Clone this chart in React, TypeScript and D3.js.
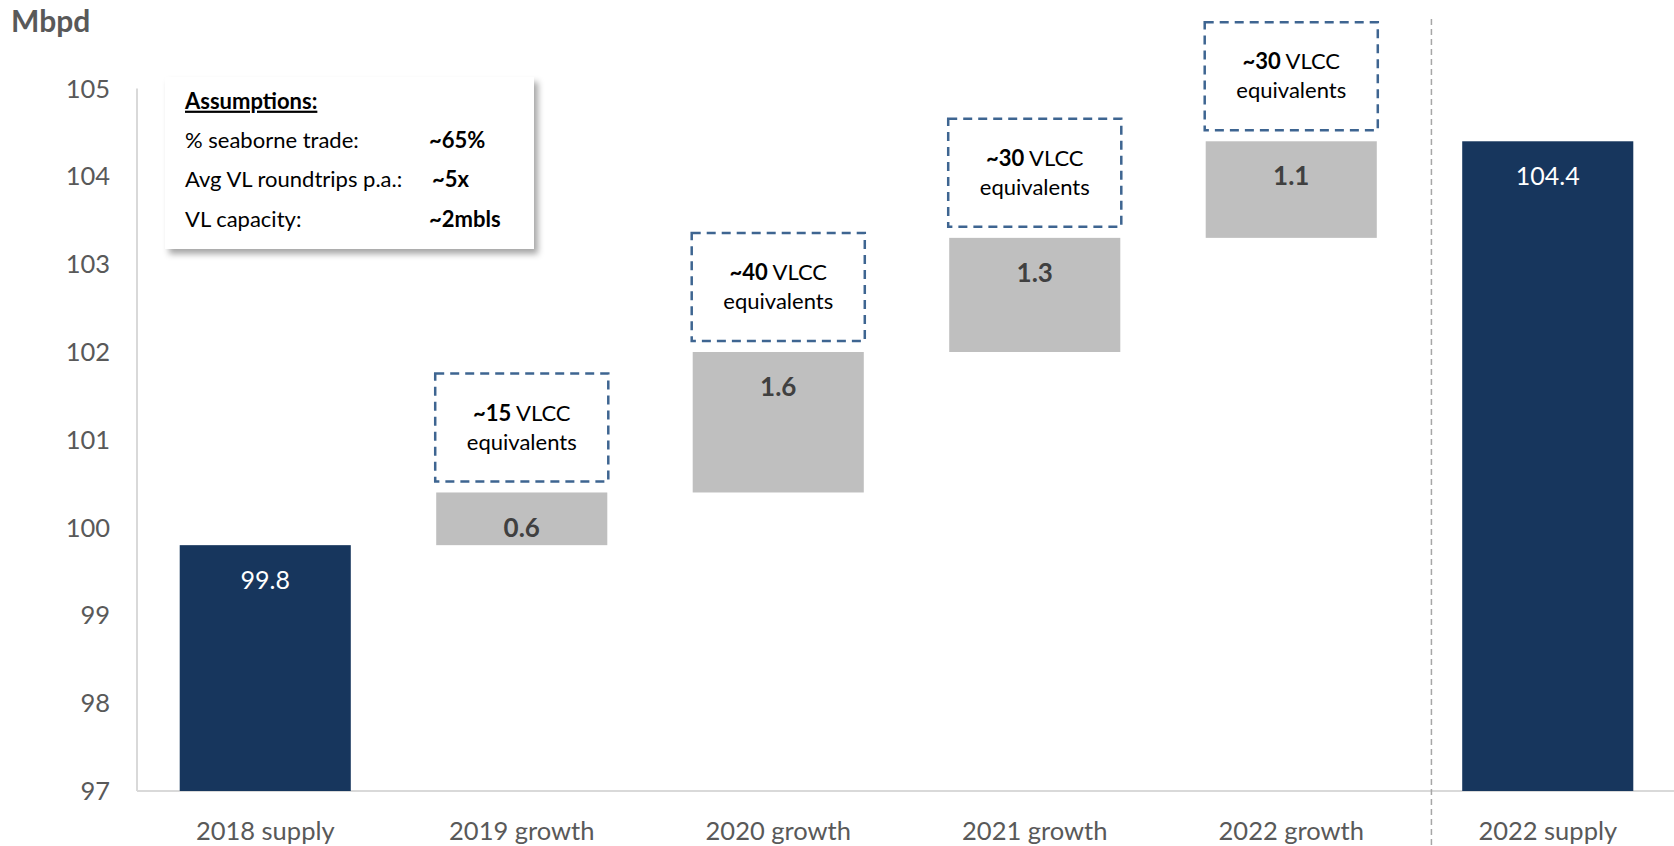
import React from "react";
import * as d3 from "d3";

const categories = ["2018 supply", "2019 growth", "2020 growth", "2021 growth", "2022 growth", "2022 supply"];
const values = [99.8, 0.6, 1.6, 1.3, 1.1, 104.4];
const kinds = ["total", "delta", "delta", "delta", "delta", "total"];
const vlccCounts = [null, "~15", "~40", "~30", "~30", null];
const yTicks = [97, 98, 99, 100, 101, 102, 103, 104, 105];
const assumptionLabels = ["% seaborne trade:", "Avg VL roundtrips p.a.:", "VL capacity:"];
const assumptionValues = ["~65%", "~5x", "~2mbls"];

const W = 1674;
const H = 846;
const FONT = "Lato, 'Open Sans', sans-serif";
const NAVY = "#17365D";
const GREY_BAR = "#BFBFBF";

export default function App() {
  const x = d3.scaleBand<string>().domain(categories).range([137, 1676]).paddingInner(0.333).paddingOuter(0.1665);
  const y = d3.scaleLinear().domain([97, 105]).range([791, 88.6]);

  let running = 0;
  const segs = categories.map((c, i) => {
    let lo: number, hi: number;
    if (kinds[i] === "total") {
      lo = 97;
      hi = values[i];
      running = values[i];
    } else {
      lo = running;
      hi = running + values[i];
      running = hi;
    }
    return { c, lo, hi, kind: kinds[i], v: values[i], vlcc: vlccCounts[i] };
  });

  const bw = x.bandwidth();
  const sepX = (x("2022 supply") as number) - x.step() * 0.12;

  return (
    <svg width={W} height={H} style={{ position: "absolute", left: 0, top: 0, background: "#fff" }} fontFamily={FONT}>
      <defs>
        <filter id="shadow" x="-10%" y="-10%" width="130%" height="140%">
          <feDropShadow dx="4" dy="5" stdDeviation="3" floodColor="#000" floodOpacity="0.35" />
        </filter>
      </defs>
      <rect width={W} height={H} fill="#fff" />

      <line x1={137} x2={137} y1={y(105)} y2={y(97)} stroke="#D9D9D9" strokeWidth={2} />
      <line x1={137} x2={W} y1={y(97)} y2={y(97)} stroke="#D9D9D9" strokeWidth={2} />

      {yTicks.map((t) => (
        <text key={t} x={110} y={y(t)} dy="0.35em" textAnchor="end" fontSize={25.5} fill="#595959">
          {t}
        </text>
      ))}

      <text x={11} y={21} dy="0.35em" fontSize={30} fontWeight={700} fill="#595959">
        Mbpd
      </text>

      <line x1={sepX} x2={sepX} y1={19} y2={H} stroke="#A6A6A6" strokeWidth={1.5} strokeDasharray="6 4" />

      {segs.map((s) => {
        const bx = x(s.c) as number;
        const top = y(s.hi);
        const bottom = y(s.lo);
        const isTotal = s.kind === "total";
        return (
          <g key={s.c}>
            <rect x={bx} y={top} width={bw} height={bottom - top} fill={isTotal ? NAVY : GREY_BAR} />
            <text
              x={bx + bw / 2}
              y={top + 35}
              dy="0.35em"
              textAnchor="middle"
              fontSize={isTotal ? 25 : 26}
              fontWeight={isTotal ? 400 : 700}
              fill={isTotal ? "#fff" : "#404040"}
            >
              {s.v.toFixed(1)}
            </text>
            {s.vlcc && (
              <g>
                <rect
                  x={bx - 1}
                  y={top - 11 - 108}
                  width={bw + 2}
                  height={108}
                  fill="#fff"
                  stroke="#3E6591"
                  strokeWidth={2.5}
                  strokeDasharray="9 6"
                />
                <text x={bx + bw / 2} y={top - 11 - 54 - 14.5} dy="0.35em" textAnchor="middle" fontSize={22} fill="#000">
                  <tspan fontWeight={700}>{s.vlcc}</tspan>
                  <tspan> VLCC</tspan>
                </text>
                <text x={bx + bw / 2} y={top - 11 - 54 + 14.5} dy="0.35em" textAnchor="middle" fontSize={22} fill="#000">
                  equivalents
                </text>
              </g>
            )}
            <text x={bx + bw / 2} y={831} dy="0.35em" textAnchor="middle" fontSize={25.5} fill="#595959">
              {s.c}
            </text>
          </g>
        );
      })}

      <g>
        <rect x={165} y={77} width={369} height={172} fill="#fff" filter="url(#shadow)" />
        <text x={185} y={101} dy="0.35em" fontSize={22} fontWeight={700} fill="#000" textDecoration="underline">
          Assumptions:
        </text>
        {assumptionLabels.map((l, i) => (
          <g key={l}>
            <text x={185} y={140 + i * 39.5} dy="0.35em" fontSize={22} fill="#000">
              {l}
            </text>
            <text x={i === 1 ? 432 : 429} y={140 + i * 39.5} dy="0.35em" fontSize={22} fontWeight={700} fill="#000">
              {assumptionValues[i]}
            </text>
          </g>
        ))}
      </g>
    </svg>
  );
}
